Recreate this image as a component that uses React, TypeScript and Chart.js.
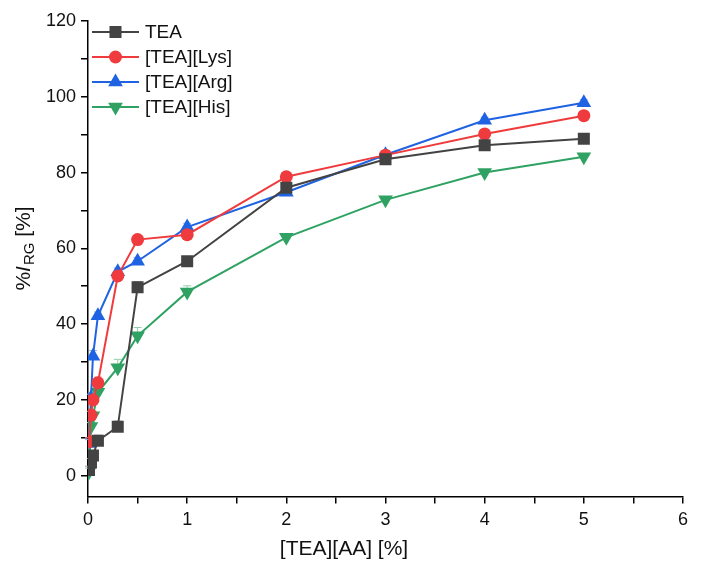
import { useEffect, useRef } from "react";
import { Chart, registerables } from "chart.js";
import { drawPoint } from "chart.js/helpers";

Chart.register(...registerables);

// concentration of the ionic liquid, %
const CONC = [0.01, 0.03, 0.05, 0.1, 0.3, 0.5, 1, 2, 3, 4, 5];

const SERIES_NAMES = ["TEA", "[TEA][Lys]", "[TEA][Arg]", "[TEA][His]"];
const TEA = [1.5, 3.5, 5.3, 9.2, 12.9, 49.7, 56.6, 76.0, 83.5, 87.2, 88.9];
const TEA_LYS = [9.0, 16.0, 20.0, 24.5, 52.7, 62.3, 63.6, 78.9, 84.6, 90.2, 95.0];
const TEA_ARG = [8.5, 20.5, 31.5, 42.2, 53.8, 56.6, 65.6, 74.8, 84.7, 93.8, 98.4];
const TEA_HIS = [1.0, 13.0, 15.8, 22.0, 28.5, 36.9, 48.5, 62.9, 72.8, 80.0, 84.2];

// standard deviations (upper bars)
const TEA_ERR = [1.0, 1.0, 1.0, 1.5, 1.5, 1.5, 1.0, 1.0, 0.8, 0.8, 0.8];
const TEA_LYS_ERR = [1.0, 1.0, 1.2, 1.5, 1.0, 1.0, 1.0, 0.8, 0.8, 0.8, 0.8];
const TEA_ARG_ERR = [1.0, 1.0, 1.5, 1.0, 1.0, 1.0, 1.0, 0.8, 0.8, 0.8, 0.8];
const TEA_HIS_ERR = [1.0, 1.0, 1.2, 1.5, 2.2, 2.2, 1.6, 1.0, 0.8, 0.8, 0.8];

const X_TICKS = [0, 0.5, 1, 1.5, 2, 2.5, 3, 3.5, 4, 4.5, 5, 5.5, 6];
const Y_TICKS = [0, 10, 20, 30, 40, 50, 60, 70, 80, 90, 100, 110, 120];

const COLORS = ["#434343", "#ef3b3d", "#1f63e3", "#2fa263"];
const ERR_COLORS = ["#9a9a9a", "#f59a9b", "#8fb1f0", "#93d0ad"];
const STYLES = ["rect", "circle", "triangle", "triangle"];
const ROTATIONS = [0, 0, 0, 180];
const RADII = [8.5, 6.5, 8.5, 8.5];

const VALUES = [TEA, TEA_LYS, TEA_ARG, TEA_HIS];
const ERRORS = [TEA_ERR, TEA_LYS_ERR, TEA_ARG_ERR, TEA_HIS_ERR];

const FONT = "'Liberation Sans', Arial, sans-serif";

const errorBars = {
  id: "errorBars",
  beforeDatasetsDraw(chart: any) {
    const ctx = chart.ctx;
    const yScale = chart.scales.y;
    ctx.save();
    ctx.lineWidth = 1;
    VALUES.forEach((vals, i) => {
      const meta = chart.getDatasetMeta(i);
      ctx.strokeStyle = ERR_COLORS[i];
      vals.forEach((v, j) => {
        const pt = meta.data[j];
        const top = yScale.getPixelForValue(v + ERRORS[i][j]);
        ctx.beginPath();
        ctx.moveTo(pt.x, pt.y);
        ctx.lineTo(pt.x, top);
        ctx.moveTo(pt.x - 4, top);
        ctx.lineTo(pt.x + 4, top);
        ctx.stroke();
      });
    });
    ctx.restore();
  },
};

const decorations = {
  id: "decorations",
  afterDraw(chart: any) {
    const ctx = chart.ctx;
    ctx.save();

    // legend
    ctx.font = `19px ${FONT}`;
    ctx.textBaseline = "middle";
    ctx.textAlign = "left";
    SERIES_NAMES.forEach((name, i) => {
      const y = 32 + i * 25;
      ctx.strokeStyle = COLORS[i];
      ctx.lineWidth = 2;
      ctx.beginPath();
      ctx.moveTo(92, y);
      ctx.lineTo(139, y);
      ctx.stroke();
      ctx.fillStyle = COLORS[i];
      drawPoint(ctx, { pointStyle: STYLES[i], rotation: ROTATIONS[i], radius: RADII[i], borderWidth: 0 } as any, 115.5, y);
      ctx.fillStyle = "#111";
      ctx.fillText(name, 145, y + 1);
    });

    // x title
    ctx.fillStyle = "#111";
    ctx.font = `21px ${FONT}`;
    ctx.textAlign = "center";
    ctx.textBaseline = "middle";
    ctx.fillText("[TEA][AA] [%]", 344, 549);

    // y title: %I_RG [%]
    ctx.translate(24, 249);
    ctx.rotate(-Math.PI / 2);
    ctx.textAlign = "left";
    ctx.textBaseline = "middle";
    const parts = [
      { t: "%", f: `21px ${FONT}`, dy: 0 },
      { t: "I", f: `italic 21px ${FONT}`, dy: 0 },
      { t: "RG", f: `15px ${FONT}`, dy: 6 },
      { t: " [%]", f: `21px ${FONT}`, dy: 0 },
    ];
    let total = 0;
    parts.forEach((p) => {
      ctx.font = p.f;
      total += ctx.measureText(p.t).width;
    });
    let x = -total / 2;
    parts.forEach((p) => {
      ctx.font = p.f;
      ctx.fillText(p.t, x, p.dy);
      x += ctx.measureText(p.t).width + (p.t === "I" ? 1 : 0);
    });
    ctx.restore();
  },
};

export default function App() {
  const canvasRef = useRef<HTMLCanvasElement>(null);

  useEffect(() => {
    if (!canvasRef.current) return;
    const chart = new Chart(canvasRef.current, {
      type: "line",
      data: {
        datasets: SERIES_NAMES.map((name, i) => ({
          label: name,
          data: CONC.map((c, j) => ({ x: c, y: VALUES[i][j] })),
          borderColor: COLORS[i],
          backgroundColor: COLORS[i],
          borderWidth: 2,
          pointStyle: STYLES[i] as any,
          rotation: ROTATIONS[i],
          pointRadius: RADII[i],
          pointBorderWidth: 0,
          tension: 0,
        })),
      },
      options: {
        animation: false,
        responsive: true,
        maintainAspectRatio: false,
        layout: { padding: { left: 0, top: 21, right: 18, bottom: 0 } },
        plugins: {
          legend: { display: false },
          tooltip: { enabled: false },
        },
        scales: {
          x: {
            type: "linear",
            min: 0,
            max: 6,
            afterBuildTicks: (s: any) => {
              s.ticks = X_TICKS.map((v) => ({ value: v }));
            },
            afterFit: (s: any) => {
              s.height = 72.5;
            },
            ticks: {
              autoSkip: false,
              maxRotation: 0,
              padding: 6,
              color: "#111",
              font: { family: FONT, size: 18 },
              callback: (v: any) => (Number.isInteger(Number(v)) ? String(v) : ""),
            },
            grid: { drawOnChartArea: false, drawTicks: true, tickLength: 7, color: "#000", lineWidth: 1.5 },
            border: { color: "#000", width: 1.5 },
          },
          y: {
            type: "linear",
            min: -5.5,
            max: 120,
            afterBuildTicks: (s: any) => {
              s.ticks = Y_TICKS.map((v) => ({ value: v }));
            },
            afterFit: (s: any) => {
              s.width = 88;
            },
            ticks: {
              autoSkip: false,
              padding: 5,
              color: "#111",
              font: { family: FONT, size: 18 },
              callback: (v: any) => (Number(v) % 20 === 0 ? String(v) : ""),
            },
            grid: { drawOnChartArea: false, drawTicks: true, tickLength: 7, color: "#000", lineWidth: 1.5 },
            border: { color: "#000", width: 1.5 },
          },
        },
      },
      plugins: [errorBars, decorations],
    });
    return () => chart.destroy();
  }, []);

  return (
    <div style={{ position: "absolute", left: 0, top: 0, width: 701, height: 569, background: "#fff" }}>
      <canvas ref={canvasRef} />
    </div>
  );
}
